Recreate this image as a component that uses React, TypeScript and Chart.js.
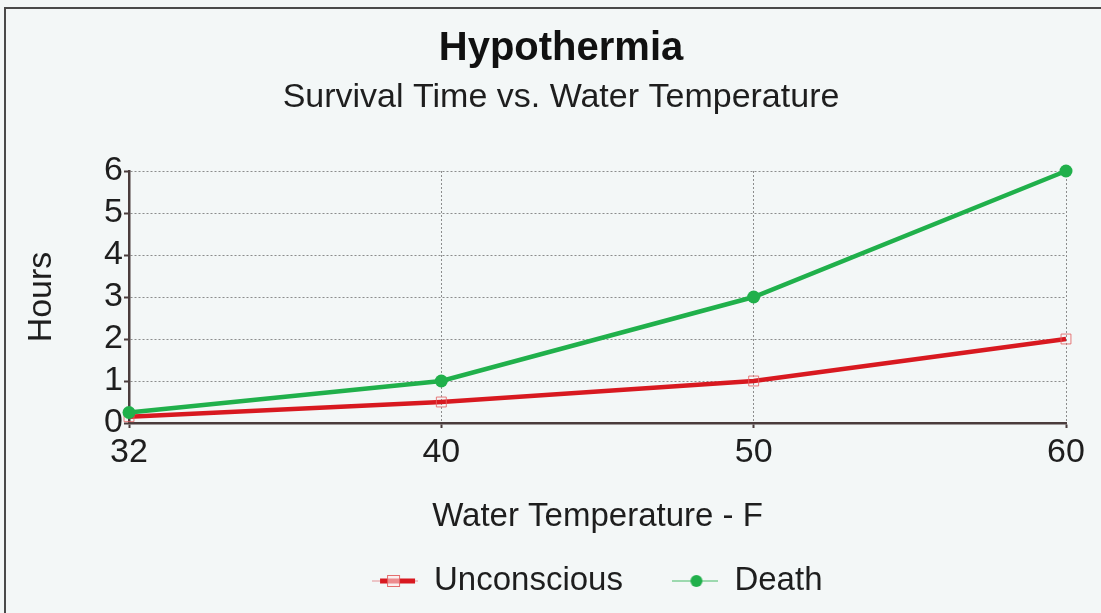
import React, { useEffect, useRef } from "react";
import { Chart, registerables } from "chart.js";

Chart.register(...registerables);

// ---- data ----
const categories = ["32", "40", "50", "60"];
const unconsciousHours = [0.15, 0.5, 1, 2];
const deathHours = [0.25, 1, 3, 6];
const yTickValues = [0, 1, 2, 3, 4, 5, 6];

const titleText = "Hypothermia";
const subtitleText = "Survival Time vs. Water Temperature";
const xTitle = "Water Temperature - F";
const yTitle = "Hours";
const seriesNames = ["Unconscious", "Death"];

// ---- style ----
const RED = "#d81920";
const GREEN = "#20b04b";
const FONT = "'Liberation Sans', Arial, Helvetica, sans-serif";
const TEXT = "#1e1e1e";
const AXIS = "#4a3c3c";
const GRID = "rgba(105,105,105,0.75)";
const PAPER = "#f3f7f7";

function makeIcon(kind: string): HTMLCanvasElement {
  const c = document.createElement("canvas");
  c.width = 46;
  c.height = 16;
  const ctx = c.getContext("2d")!;
  const cy = 8;
  if (kind === "u") {
    ctx.strokeStyle = "rgba(216,25,32,0.45)";
    ctx.lineWidth = 1;
    ctx.beginPath();
    ctx.moveTo(0, cy);
    ctx.lineTo(46, cy);
    ctx.stroke();
    ctx.strokeStyle = RED;
    ctx.lineWidth = 5;
    ctx.beginPath();
    ctx.moveTo(8, cy);
    ctx.lineTo(43, cy);
    ctx.stroke();
    ctx.fillStyle = "rgba(255,235,235,0.55)";
    ctx.fillRect(15.5, 2.5, 12, 11);
    ctx.strokeStyle = "rgba(225,95,95,0.9)";
    ctx.lineWidth = 1;
    ctx.strokeRect(15.5, 2.5, 12, 11);
  } else {
    ctx.strokeStyle = "rgba(32,176,75,0.55)";
    ctx.lineWidth = 1.5;
    ctx.beginPath();
    ctx.moveTo(0, cy);
    ctx.lineTo(46, cy);
    ctx.stroke();
    ctx.fillStyle = GREEN;
    ctx.beginPath();
    ctx.arc(24, cy, 6, 0, Math.PI * 2);
    ctx.fill();
  }
  return c;
}

export default function App() {
  const canvasRef = useRef<HTMLCanvasElement | null>(null);

  useEffect(() => {
    if (!canvasRef.current) return;
    const iconU = makeIcon("u");
    const iconD = makeIcon("d");

    const chart = new Chart(canvasRef.current, {
      type: "line",
      data: {
        labels: categories,
        datasets: [
          {
            label: seriesNames[0],
            data: unconsciousHours,
            borderColor: RED,
            borderWidth: 4.5,
            pointStyle: "rect",
            pointRadius: 7,
            pointBorderWidth: 1,
            pointBorderColor: "rgba(228,100,100,0.85)",
            pointBackgroundColor: "rgba(255,255,255,0)",
            tension: 0,
            clip: false as any,
            order: 1,
          },
          {
            label: seriesNames[1],
            data: deathHours,
            borderColor: GREEN,
            borderWidth: 4.5,
            pointStyle: "circle",
            pointRadius: 6.5,
            pointBorderWidth: 0,
            pointBackgroundColor: GREEN,
            tension: 0,
            clip: false as any,
            order: 0,
          },
        ],
      },
      options: {
        responsive: false,
        animation: false,
        devicePixelRatio: 1,
        events: [],
        layout: { padding: { left: 56, right: 35, top: 10, bottom: 5.5 } },
        plugins: {
          tooltip: { enabled: false },
          title: {
            display: true,
            text: titleText,
            color: "#111",
            font: { family: FONT, size: 40, weight: "bold" },
            padding: { top: 15, bottom: 0 },
          },
          subtitle: {
            display: true,
            text: subtitleText,
            color: TEXT,
            font: { family: FONT, size: 34 },
            padding: { top: 4.6, bottom: 52.6 },
          },
          legend: {
            display: true,
            position: "bottom",
            fullSize: false,
            labels: {
              usePointStyle: true,
              pointStyleWidth: 45,
              padding: 50,
              color: TEXT,
              font: { family: FONT, size: 33 },
              generateLabels: () => [
                {
                  text: seriesNames[0],
                  pointStyle: iconU as any,
                  fillStyle: RED,
                  strokeStyle: RED,
                  lineWidth: 0,
                  hidden: false,
                  datasetIndex: 0,
                  fontColor: TEXT,
                },
                {
                  text: seriesNames[1],
                  pointStyle: iconD as any,
                  fillStyle: GREEN,
                  strokeStyle: GREEN,
                  lineWidth: 0,
                  hidden: false,
                  datasetIndex: 1,
                  fontColor: TEXT,
                },
              ],
            },
          },
        },
        scales: {
          x: {
            type: "category",
            offset: false,
            afterFit: (s: any) => {
              s.height = 91.5;
            },
            grid: {
              color: GRID,
              lineWidth: 1,
              tickLength: 5,
              tickColor: AXIS,
              tickWidth: 2,
              tickBorderDash: [],
            },
            border: { display: true, color: AXIS, width: 2.5, dash: [2, 2] },
            ticks: {
              color: TEXT,
              padding: 4,
              maxRotation: 0,
              autoSkip: false,
              font: { family: FONT, size: 34 },
            },
            title: {
              display: true,
              text: xTitle,
              color: TEXT,
              font: { family: FONT, size: 33 },
              padding: { top: 0, bottom: -22.3 },
            },
          },
          y: {
            type: "linear",
            min: 0,
            max: 6,
            afterFit: (s: any) => {
              s.width = 73;
            },
            afterBuildTicks: (s: any) => {
              s.ticks = yTickValues.map((v) => ({ value: v }));
            },
            grid: {
              color: GRID,
              lineWidth: 1,
              tickLength: 5,
              tickColor: AXIS,
              tickWidth: 2,
              tickBorderDash: [],
            },
            border: { display: true, color: AXIS, width: 2.5, dash: [2, 2] },
            ticks: {
              color: TEXT,
              padding: 1,
              stepSize: 1,
              autoSkip: false,
              font: { family: FONT, size: 34 },
            },
            title: {
              display: true,
              text: yTitle,
              color: TEXT,
              font: { family: FONT, size: 34 },
              padding: { top: -34.4, bottom: 0 },
            },
          },
        },
      } as any,
    });

    return () => {
      chart.destroy();
    };
  }, []);

  return (
    <div
      style={{
        position: "absolute",
        left: 0,
        top: 0,
        width: 1101,
        height: 613,
        background: PAPER,
        overflow: "hidden",
      }}
    >
      <canvas
        ref={canvasRef}
        width={1101}
        height={613}
        style={{ display: "block", position: "absolute", left: 0, top: 0 }}
      />
      <div
        style={{
          position: "absolute",
          left: 4,
          top: 7,
          width: 1101,
          height: 620,
          borderTop: "2px solid #4a4a4a",
          borderLeft: "2px solid #4a4a4a",
          pointerEvents: "none",
        }}
      />
    </div>
  );
}
